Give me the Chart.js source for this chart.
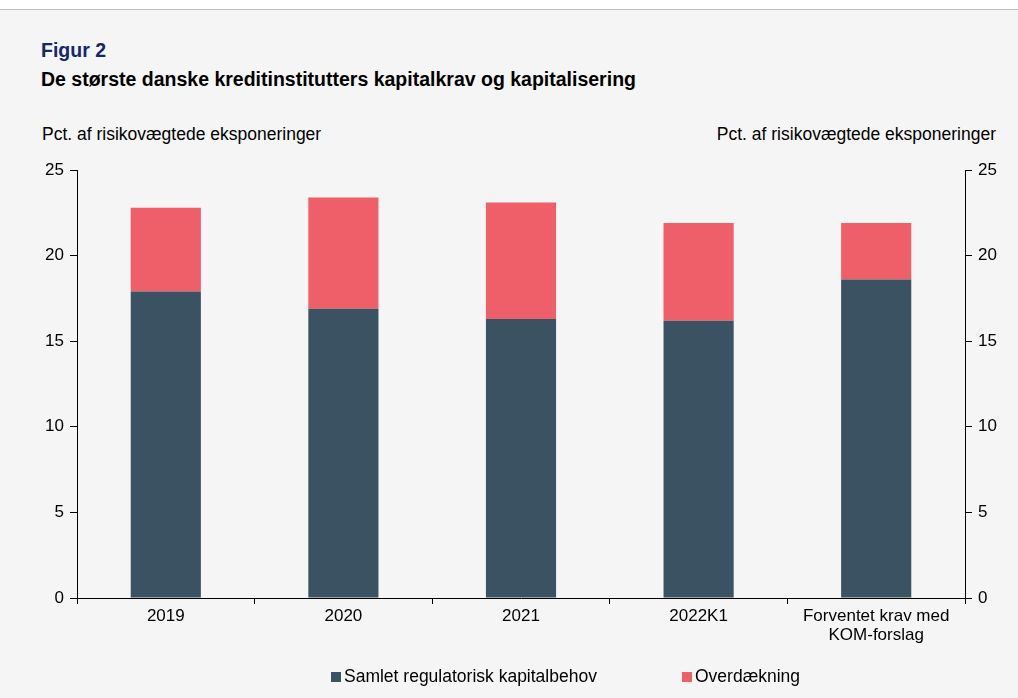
<!DOCTYPE html>
<html>
<head>
<meta charset="utf-8">
<script src="https://cdn.jsdelivr.net/npm/chart.js@4"></script>
<style>
  html, body { margin: 0; padding: 0; background: #fff; }
  #page { position: relative; width: 1018px; height: 698px; overflow: hidden;
          font-family: "Liberation Sans", Arial, sans-serif; }
  #bg { position: absolute; left: 0; top: 9px; width: 1018px; height: 689px;
        background: #f5f5f5; border-top: 1px solid #bdbdbd; }
  .t { position: absolute; white-space: nowrap; }
  #fig { left: 41px; top: 39px; font-size: 19.5px; font-weight: bold; color: #14286b; }
  #sub { left: 41px; top: 68px; font-size: 19.5px; font-weight: bold; color: #000; }
  #ul { left: 42px; top: 124px; font-size: 17.5px; color: #000; }
  #ur { right: 22px; top: 124px; font-size: 17.5px; color: #000; }
  #wrap { position: absolute; left: 0; top: 0; width: 1018px; height: 698px; }
  #legend { position: absolute; top: 666px; left: 331px; font-size: 17.5px; color: #000; }
  #legend span.item { position: absolute; white-space: nowrap; }
  #legend i { display: inline-block; width: 10px; height: 10px; margin-right: 3px; vertical-align: 0px; }
</style>
</head>
<body>
<div id="page">
  <div id="bg"></div>
  <div class="t" id="fig">Figur 2</div>
  <div class="t" id="sub">De største danske kreditinstitutters kapitalkrav og kapitalisering</div>
  <div class="t" id="ul">Pct. af risikovægtede eksponeringer</div>
  <div class="t" id="ur">Pct. af risikovægtede eksponeringer</div>
  <div id="wrap"><canvas id="myChart"></canvas></div>
  <div id="legend"></div>
</div>
<script>
// kategorier
var labels = ['2019', '2020', '2021', '2022K1', ['Forventet krav med', 'KOM-forslag']];
// Samlet regulatorisk kapitalbehov
var kapitalbehov = [17.9, 16.9, 16.3, 16.2, 18.6];
// Overdækning
var overdaekning = [4.9, 6.5, 6.8, 5.7, 3.3];
var seriesNames = ['Samlet regulatorisk kapitalbehov', 'Overdækning'];
var seriesColors = ['#3b5263', '#ee5f6a'];

Chart.defaults.font.family = '"Liberation Sans", Arial, sans-serif';
Chart.defaults.font.size = 17;
Chart.defaults.color = '#000';

var ctx = document.getElementById('myChart');
var myChart = new Chart(ctx, {
  type: 'bar',
  data: {
    labels: labels,
    datasets: [{
      label: seriesNames[0],
      data: kapitalbehov,
      backgroundColor: seriesColors[0],
      yAxisID: 'y'
    }, {
      label: seriesNames[1],
      data: overdaekning,
      backgroundColor: seriesColors[1],
      yAxisID: 'y'
    }]
  },
  options: {
    responsive: true,
    maintainAspectRatio: false,
    animation: false,
    layout: { padding: { top: 170, bottom: 40, left: 0, right: 0 } },
    datasets: { bar: { barPercentage: 0.395, categoryPercentage: 1 } },
    plugins: { legend: { display: false }, tooltip: { enabled: false } },
    scales: {
      x: {
        stacked: true,
        grid: { display: true, drawOnChartArea: false, offset: true, tickLength: 6, color: '#000' },
        border: { color: '#000', width: 1 },
        ticks: { padding: 3, maxRotation: 0, autoSkip: false, font: { lineHeight: 1.1 } },
        afterFit: function (s) { s.height = 60; }
      },
      y: {
        stacked: true,
        position: 'left',
        min: 0, max: 25,
        ticks: { stepSize: 5, padding: 6 },
        grid: { drawOnChartArea: false, tickLength: 7, color: '#000' },
        border: { color: '#000', width: 1 },
        afterFit: function (s) { s.width = 77; }
      },
      y2: {
        position: 'right',
        min: 0, max: 25,
        ticks: { stepSize: 5, padding: 6 },
        grid: { drawOnChartArea: false, tickLength: 7, color: '#000' },
        border: { color: '#000', width: 1 },
        afterFit: function (s) { s.width = 53; }
      }
    }
  }
});

// legend
var lg = document.getElementById('legend');
var lx = [0, 351];
seriesNames.forEach(function (n, i) {
  var s = document.createElement('span');
  s.className = 'item';
  s.style.left = lx[i] + 'px';
  s.innerHTML = '<i style="background:' + seriesColors[i] + '"></i>' + n;
  lg.appendChild(s);
});
</script>
</body>
</html>
